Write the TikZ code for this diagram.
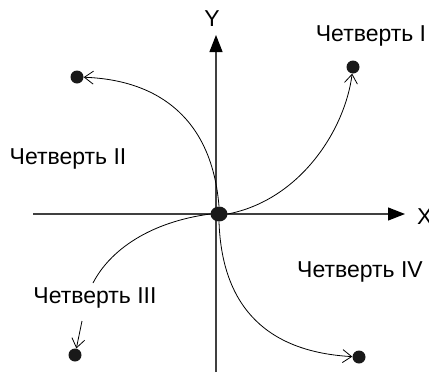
\documentclass[tikz,border=0pt]{standalone}
\usepackage{fontspec}
\setmainfont{Liberation Sans}
\usepackage{tikz}
\usetikzlibrary{arrows.meta,shapes.geometric}

\tikzset{
    axis/.style={draw=black!75, line width=1.2pt, -{Triangle[length=17pt,width=13pt,black]}},
    spot/.style={circle, fill=black!90, inner sep=0pt, minimum size=13pt},
    curve/.style={line width=0.8pt, -{Straight Barb[length=9pt,width=13pt]}},
    quarter/.style={font=\fontsize{23}{26}\selectfont, inner sep=0pt}
}

\begin{document}
\begin{tikzpicture}[x=1pt, y=-1pt]
    \useasboundingbox (0,0) rectangle (429,378);

    % axes
    \coordinate (xl) at (33,214);
    \coordinate (xr) at (405,214);
    \coordinate (yb) at (216,372);
    \coordinate (yt) at (216,35);
    \draw[axis] (xl) -- (xr);
    \draw[axis] (yb) -- (yt);
    \node[quarter, anchor=west] (xlab) at (417,217) {X};
    \node[quarter] (ylab) at (212,19) {Y};

    % points
    \node[spot, ellipse, minimum width=17pt, minimum height=15pt] (o) at (219,214) {};
    \node[spot] (q1) at (353,67) {};
    \node[spot] (q2) at (77,77) {};
    \node[spot] (q3) at (75,355) {};
    \node[spot] (q4) at (359,357) {};

    % labels
    \node[quarter] (l1) at (371,36) {Четверть I};
    \node[quarter] (l2) at (68,159) {Четверть II};
    \node[quarter] (l3) at (95,298) {Четверть III};
    \node[quarter] (l4) at (360,272) {Четверть IV};

    % paths
    \draw[curve] (o.east) .. controls (300,200) and (345,130) .. (q1);
    \draw[curve] (o.north) .. controls (212,120) and (160,80) .. (q2);
    \draw[curve] (o.south) .. controls (222,310) and (270,352) .. (q4);
    \coordinate (c3a) at (93,283);
    \coordinate (c3b) at (82,321);
    \draw[line width=0.8pt] (o.west) .. controls (150,222) and (110,250) .. (c3a);
    \draw[curve] (c3b) -- (q3);
\end{tikzpicture}
\end{document}
